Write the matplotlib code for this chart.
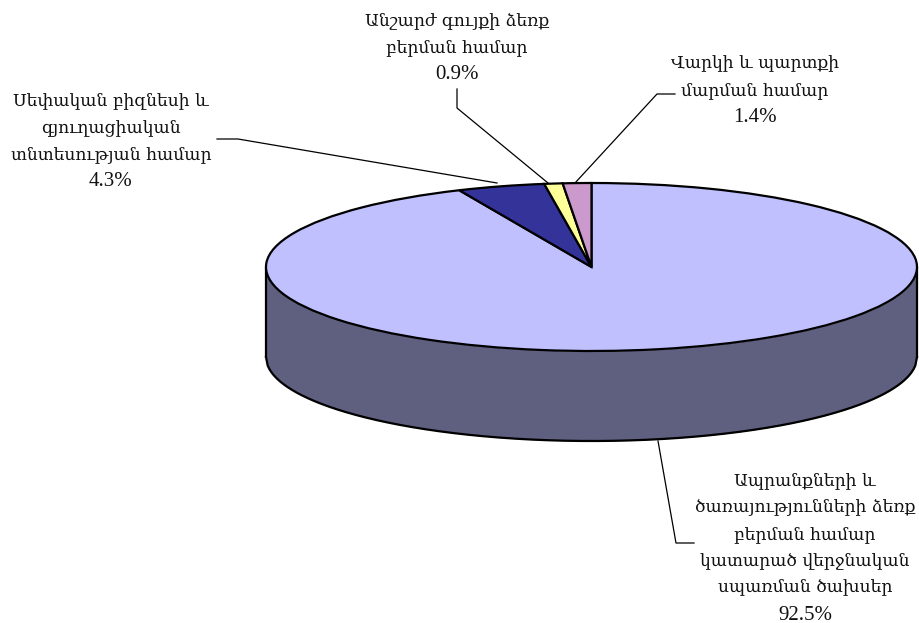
import numpy as np
import matplotlib
matplotlib.use("Agg")
import matplotlib.pyplot as plt

# clockwise from the top of the pie
values = [92.5, 4.3, 0.9, 1.4]
colors = ["#C0C0FF", "#333399", "#FFFF99", "#CC99CC"]
side_color = "#5F5F80"

labels = [
    ["Ապրանքների և", "ծառայությունների ձեռք", "բերման համար", "կատարած վերջնական", "սպառման ծախսեր"],
    ["Սեփական բիզնեսի և", "գյուղացիական", "տնտեսության համար"],
    ["Անշարժ գույքի ձեռք", "բերման համար"],
    ["Վարկի և պարտքի", "մարման համար"],
]
percents = ["92.5%", "4.3%", "0.9%", "1.4%"]
# centre x and first baseline of each label, in pixels
label_pos = [(805, 485), (111, 105), (457, 25), (755, 68)]
leaders = [
    [(658, 441), (676, 543), (694, 543)],
    [(217, 139), (238, 139), (497, 183)],
    [(457, 89), (457, 108), (548, 183)],
    [(675, 94), (657, 94), (575, 183)],
]

W, H = 920, 623
cx, cy, rx, ry, depth = 591.5, 267, 325.5, 84, 90
line_step = 26.9

fig = plt.figure(figsize=(W / 100, H / 100), dpi=100)

# pie axes: unit circle squashed into an ellipse
ax = fig.add_axes([0, 0, 1, 1])
x = np.linspace(-1, 1, 400)
lower = -np.sqrt(1 - x ** 2)
d = depth / ry
ax.fill_between(x, lower, lower - d, color=side_color, lw=0, zorder=0)
ax.plot(x, lower - d, color="black", lw=1.6, zorder=1)
ax.plot([-1, -1], [0, -d], color="black", lw=1.6, zorder=1)
ax.plot([1, 1], [0, -d], color="black", lw=1.6, zorder=1)
ax.pie(values, colors=colors, startangle=90, counterclock=False, radius=1,
       wedgeprops={"edgecolor": "black", "linewidth": 1.6})
ax.set_aspect("auto")
ax.set_xlim(-cx / rx, (W - cx) / rx)
ax.set_ylim((cy - H) / ry, cy / ry)
ax.axis("off")

# overlay in pixel coordinates for labels and leader lines
ov = fig.add_axes([0, 0, 1, 1])
ov.set_xlim(0, W)
ov.set_ylim(H, 0)
ov.axis("off")
ov.patch.set_alpha(0)

for line in leaders:
    xs, ys = zip(*line)
    ov.plot(xs, ys, color="black", lw=0.9)

# Armenian only exists in DejaVu Serif here, so it runs smaller than the Times digits
for lines, pct, (tx, ty) in zip(labels, percents, label_pos):
    for i, text in enumerate(lines):
        ov.text(tx, ty + i * line_step, text, ha="center", va="baseline",
                family="DejaVu Serif", fontsize=12.3, color="#111111")
    ov.text(tx, ty + len(lines) * line_step, pct, ha="center", va="baseline",
            family="Liberation Serif", fontsize=15, color="#111111")

fig.savefig("out.png", dpi=100)
